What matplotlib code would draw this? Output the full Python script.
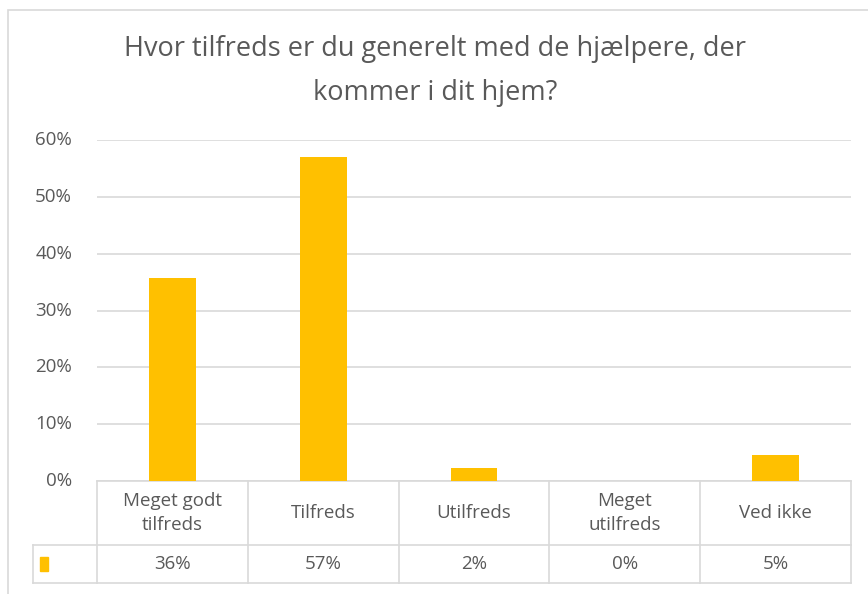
"""Excel-style column chart with a data table underneath."""

import matplotlib.pyplot as plt
from matplotlib.lines import Line2D
from matplotlib.patches import Rectangle
import matplotlib.transforms as mtransforms

categories = ["Meget godt\ntilfreds", "Tilfreds", "Utilfreds", "Meget\nutilfreds", "Ved ikke"]
values = [0.357, 0.570, 0.023, 0.0, 0.046]
value_labels = ["36%", "57%", "2%", "0%", "5%"]
yticks = [0, 0.1, 0.2, 0.3, 0.4, 0.5, 0.6]
title = "Hvor tilfreds er du generelt med de hjælpere, der\nkommer i dit hjem?"

BAR = "#FFC000"
GRID = "#D9D9D9"
TEXT = "#595959"
FONT = "Open Sans"

W, H = 868, 594
fig = plt.figure(figsize=(W / 100, H / 100), dpi=100)
plt.rcParams["font.family"] = [FONT, "DejaVu Sans"]


def px(x, y):
    return x / W, 1 - y / H


# chart border
fig.add_artist(Rectangle(px(8, 620), (880 - 8) / W, (620 - 10) / H,
                         transform=fig.transFigure, fill=False, edgecolor=GRID, linewidth=1.2))

left, right, top, bottom = 97, 851, 140, 481
ax = fig.add_axes([left / W, 1 - bottom / H, (right - left) / W, (bottom - top) / H])
x = list(range(len(categories)))
ax.bar(x, values, width=0.31, color=BAR, zorder=3)
ax.set_xlim(-0.5, len(categories) - 0.5)
ax.set_ylim(0, 0.6)
ax.set_yticks(yticks)
ax.set_yticklabels([f"{int(round(t * 100))}%" for t in yticks], color=TEXT, fontsize=13.5)
ax.tick_params(axis="y", length=0, pad=18)
ax.set_xticks([])
ax.grid(axis="y", color=GRID, linewidth=1.2, zorder=0)
for s in ax.spines.values():
    s.set_visible(False)
for lab in ax.get_yticklabels():
    lab.set_verticalalignment("center")

# data table below the axis
tr = mtransforms.blended_transform_factory(ax.transData, ax.transAxes)
unit = (bottom - top)
row1 = -(545 - bottom) / unit
row2 = -(583 - bottom) / unit
key_left = -0.5 - (left - 33) / ((right - left) / len(categories))
n = len(categories)

def hline(x0, x1, y):
    ax.add_line(Line2D([x0, x1], [y, y], transform=tr, color=GRID, linewidth=1.2, clip_on=False))

def vline(xx, y0, y1):
    ax.add_line(Line2D([xx, xx], [y0, y1], transform=tr, color=GRID, linewidth=1.2, clip_on=False))

hline(-0.5, n - 0.5, 0)
hline(key_left, n - 0.5, row1)
hline(key_left, n - 0.5, row2)
for i in range(n + 1):
    vline(i - 0.5, 0, row2)
vline(key_left, row1, row2)

for i, (cat, val) in enumerate(zip(categories, value_labels)):
    ax.text(i, row1 / 2, cat, transform=tr, ha="center", va="center",
            color=TEXT, fontsize=13.5, linespacing=1.5)
    ax.text(i, (row1 + row2) / 2, val, transform=tr, ha="center", va="center",
            color=TEXT, fontsize=13.5)

ax.add_patch(Rectangle((key_left + 0.045, (row1 + row2) / 2 - 0.02), 0.055, 0.04,
                       transform=tr, color=BAR, clip_on=False))

fig.text(435 / W, 1 - 71 / H, title, ha="center", va="center", color=TEXT,
         fontsize=19.5, linespacing=1.75)

fig.savefig("out.png", dpi=100)
